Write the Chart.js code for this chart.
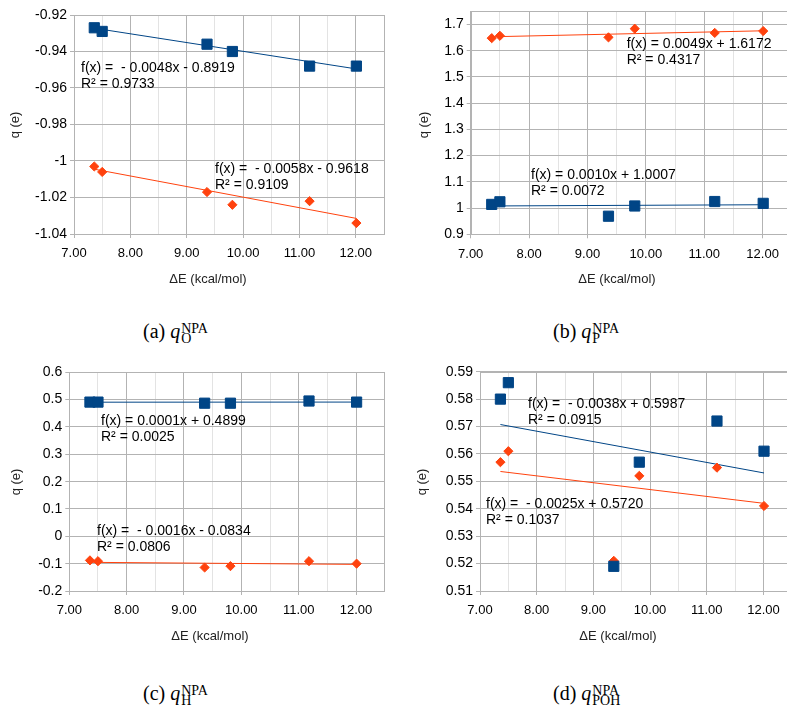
<!DOCTYPE html>
<html>
<head>
<meta charset="utf-8">
<script src="https://cdn.jsdelivr.net/npm/chart.js@4.4.0/dist/chart.umd.min.js"></script>
<style>
body { margin:0; width:787px; height:711px; overflow:hidden; background:#fff; position:relative; }
.panel { position:absolute; }
.cap { position:absolute; font-family:"Liberation Serif", serif; font-size:20px; line-height:20px; color:#000; white-space:nowrap; }
.cap i { font-style:italic; }
.ss { display:inline-block; vertical-align:-5px; font-size:14px; line-height:10px; margin-left:1px; }
.ss span { display:block; }
</style>
</head>
<body>
<div class="panel" style="left:0;top:0;width:395px;height:300px"><canvas id="cA"></canvas></div>
<div class="panel" style="left:400px;top:0;width:400px;height:300px"><canvas id="cB"></canvas></div>
<div class="panel" style="left:0;top:360px;width:395px;height:300px"><canvas id="cC"></canvas></div>
<div class="panel" style="left:400px;top:360px;width:400px;height:300px"><canvas id="cD"></canvas></div>

<div class="cap" style="left:143px;top:321px">(a) <i>q</i><span class="ss"><span>NPA</span><span>O</span></span></div>
<div class="cap" style="left:553px;top:321px">(b) <i>q</i><span class="ss"><span>NPA</span><span>P</span></span></div>
<div class="cap" style="left:143px;top:683px">(c) <i>q</i><span class="ss"><span>NPA</span><span>H</span></span></div>
<div class="cap" style="left:553px;top:683px">(d) <i>q</i><span class="ss"><span>NPA</span><span>POH</span></span></div>

<script>
// shared x values (ΔE, kcal/mol)
var dE = [7.36, 7.50, 9.36, 9.81, 11.18, 12.01];
var xTicks = [7, 7.5, 8, 8.5, 9, 9.5, 10, 10.5, 11, 11.5, 12, 12.5];

// (a) O
var oBlue = [-0.927, -0.929, -0.936, -0.940, -0.948, -0.948];
var oOrange = [-1.003, -1.006, -1.017, -1.024, -1.022, -1.034];
var oBlueFit = [-0.0048, -0.8919];
var oOrangeFit = [-0.0058, -0.9618];
var oTicks = [-1.04, -1.02, -1, -0.98, -0.96, -0.94, -0.92];
var oEqs = [["f(x) =  - 0.0048x - 0.8919", "R² = 0.9733"], ["f(x) =  - 0.0058x - 0.9618", "R² = 0.9109"]];

// (b) P
var pBlue = [1.014, 1.024, 0.969, 1.008, 1.025, 1.018];
var pOrange = [1.648, 1.657, 1.651, 1.684, 1.668, 1.675];
var pBlueFit = [0.0010, 1.0007];
var pOrangeFit = [0.0049, 1.6172];
var pTicks = [0.9, 1, 1.1, 1.2, 1.3, 1.4, 1.5, 1.6, 1.7];
var pEqs = [["f(x) = 0.0010x + 1.0007", "R² = 0.0072"], ["f(x) = 0.0049x + 1.6172", "R² = 0.4317"]];

// (c) H
var hBlue = [0.491, 0.491, 0.487, 0.487, 0.495, 0.491];
var hOrange = [-0.088, -0.091, -0.114, -0.109, -0.091, -0.100];
var hBlueFit = [0.0001, 0.4899];
var hOrangeFit = [-0.0016, -0.0834];
var hTicks = [-0.2, -0.1, 0, 0.1, 0.2, 0.3, 0.4, 0.5, 0.6];
var hEqs = [["f(x) = 0.0001x + 0.4899", "R² = 0.0025"], ["f(x) =  - 0.0016x - 0.0834", "R² = 0.0806"]];

// (d) POH
var pohBlue = [0.580, 0.586, 0.519, 0.557, 0.572, 0.561];
var pohOrange = [0.557, 0.561, 0.521, 0.552, 0.555, 0.541];
var pohBlueFit = [-0.0038, 0.5987];
var pohOrangeFit = [-0.0025, 0.5720];
var pohTicks = [0.51, 0.52, 0.53, 0.54, 0.55, 0.56, 0.57, 0.58, 0.59];
var pohEqs = [["f(x) =  - 0.0038x + 0.5987", "R² = 0.0915"], ["f(x) =  - 0.0025x + 0.5720", "R² = 0.1037"]];

var BLUE = '#004586', ORANGE = '#ff420e';
var MAJOR = '#b3b3b3', MINOR = '#e3e3e3';

function pts(ys) {
  return ys.map(function (y, i) { return { x: dE[i], y: y }; });
}
function fitLine(fit) {
  var lo = Math.min.apply(null, dE), hi = Math.max.apply(null, dE);
  return [{ x: lo, y: fit[0] * lo + fit[1] }, { x: hi, y: fit[0] * hi + fit[1] }];
}

var deco = {
  id: 'deco',
  beforeDatasetsDraw: function (chart) {
    var c = chart.ctx, a = chart.chartArea;
    c.save();
    c.strokeStyle = MAJOR; c.lineWidth = 1;
    c.strokeRect(Math.round(a.left) + 0.5, Math.round(a.top) + 0.5, Math.round(a.right - a.left), Math.round(a.bottom - a.top));
    c.restore();
  },
  afterDraw: function (chart, args, o) {
    var c = chart.ctx;
    c.save();
    c.fillStyle = '#000';
    c.font = '14px "Liberation Sans", Arial, sans-serif';
    c.textAlign = 'left'; c.textBaseline = 'alphabetic';
    o.eqs.forEach(function (e) {
      e.lines.forEach(function (l, i) { c.fillText(l, e.x, e.y + i * 15.5); });
    });
    c.font = '13px "Liberation Sans", Arial, sans-serif';
    c.fillStyle = '#222';
    c.textAlign = 'center'; c.textBaseline = 'middle';
    c.fillText('ΔE (kcal/mol)', o.xTitle[0], o.xTitle[1]);
    c.translate(o.yTitle[0], o.yTitle[1]);
    c.rotate(-Math.PI / 2);
    c.fillText('q (e)', 0, 0);
    c.restore();
  }
};

function fmt(v) { return String(parseFloat(v.toFixed(4))); }

function makePanel(id, p) {
  var datasets = [
    { data: fitLine(p.blueFit), showLine: true, borderColor: BLUE, borderWidth: 1, pointRadius: 0, order: 10 },
    { data: fitLine(p.orangeFit), showLine: true, borderColor: ORANGE, borderWidth: 1, pointRadius: 0, order: 9 },
    { data: pts(p.orange), pointStyle: 'rectRot', pointRadius: 4.6, borderWidth: 1,
      backgroundColor: ORANGE, borderColor: ORANGE, order: 5 },
    { data: pts(p.blue), pointStyle: 'rect', pointRadius: 7.2, borderWidth: 1,
      backgroundColor: BLUE, borderColor: BLUE, order: 1 }
  ];
  return new Chart(document.getElementById(id), {
    type: 'scatter',
    data: { datasets: datasets },
    plugins: [deco],
    options: {
      responsive: true, maintainAspectRatio: false, animation: false, events: [],
      layout: { padding: { left: 0, top: p.top, right: p.right, bottom: 0 } },
      elements: { point: { hitRadius: 0 } },
      datasets: { scatter: { clip: false } },
      plugins: {
        legend: { display: false }, tooltip: { enabled: false },
        deco: { eqs: p.eqs, xTitle: p.xTitle, yTitle: p.yTitle }
      },
      scales: {
        x: {
          type: 'linear', min: 7, max: 12.5,
          afterFit: function (s) { s.height = p.xH; },
          afterBuildTicks: function (s) { s.ticks = xTicks.map(function (v) { return { value: v }; }); },
          border: { color: MAJOR },
          grid: {
            color: function (c) { return (c.tick && c.tick.value % 1 === 0) ? MAJOR : MINOR; },
            tickColor: function (c) { return (c.tick && c.tick.value % 1 === 0) ? MAJOR : 'rgba(0,0,0,0)'; },
            tickLength: 4
          },
          ticks: {
            autoSkip: false, maxRotation: 0, padding: 8, color: '#000',
            font: { family: '"Liberation Sans", Arial, sans-serif', size: 13 },
            callback: function (v) { return v % 1 === 0 ? v.toFixed(2) : ''; }
          }
        },
        y: {
          type: 'linear', min: p.yMin, max: p.yMax,
          afterFit: function (s) { s.width = p.yW; },
          afterBuildTicks: function (s) { s.ticks = p.ticks.map(function (v) { return { value: v }; }); },
          border: { color: MAJOR },
          grid: { color: MAJOR, tickColor: MAJOR, tickLength: 4 },
          ticks: {
            padding: 3, color: '#000',
            font: { family: '"Liberation Sans", Arial, sans-serif', size: 14 },
            callback: function (v) { return fmt(v); }
          }
        }
      }
    }
  });
}

makePanel('cA', {
  blue: oBlue, orange: oOrange, blueFit: oBlueFit, orangeFit: oOrangeFit, ticks: oTicks,
  yMin: -1.04, yMax: -0.92, top: 15, right: 11, yW: 74, xH: 66,
  eqs: [{ lines: oEqs[0], x: 81, y: 72 }, { lines: oEqs[1], x: 215, y: 173 }],
  xTitle: [208, 279], yTitle: [15, 125]
});
makePanel('cB', {
  blue: pBlue, orange: pOrange, blueFit: pBlueFit, orangeFit: pOrangeFit, ticks: pTicks,
  yMin: 0.9, yMax: 1.75, top: 7.4, right: 8, yW: 70.7, xH: 65.7,
  eqs: [{ lines: pEqs[0], x: 131, y: 179 }, { lines: pEqs[1], x: 226.7, y: 48.3 }],
  xTitle: [217, 279], yTitle: [24, 125]
});
makePanel('cC', {
  blue: hBlue, orange: hOrange, blueFit: hBlueFit, orangeFit: hOrangeFit, ticks: hTicks,
  yMin: -0.2, yMax: 0.6, top: 12.3, right: 10.3, yW: 69.3, xH: 69,
  eqs: [{ lines: hEqs[0], x: 101, y: 65 }, { lines: hEqs[1], x: 97, y: 175 }],
  xTitle: [210, 276], yTitle: [16, 122]
});
makePanel('cD', {
  blue: pohBlue, orange: pohOrange, blueFit: pohBlueFit, orangeFit: pohOrangeFit, ticks: pohTicks,
  yMin: 0.51, yMax: 0.59, top: 11.7, right: 6.5, yW: 80, xH: 69,
  eqs: [{ lines: pohEqs[0], x: 128, y: 48.3 }, { lines: pohEqs[1], x: 86, y: 148.3 }],
  xTitle: [218, 276], yTitle: [22, 122]
});
</script>
</body>
</html>
